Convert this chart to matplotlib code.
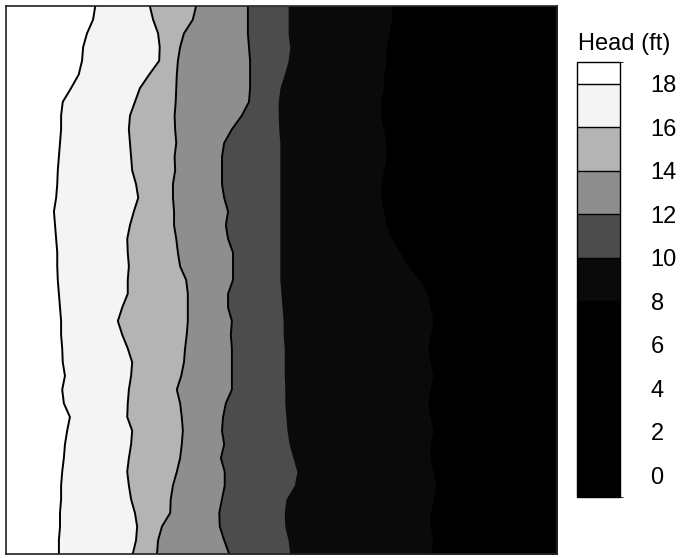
import numpy as np
import matplotlib
matplotlib.use("Agg")
import matplotlib.pyplot as plt
from matplotlib.colors import ListedColormap, BoundaryNorm
from matplotlib.cm import ScalarMappable

plt.rcParams['font.family'] = ['Liberation Sans', 'DejaVu Sans']

# y stations across the model domain, top (100) to bottom (0)
y_pos = np.linspace(100, 0, 41)

# x position of each head contour along the y stations
head18 = [16.2, 15.8, 14.7, 14.0, 13.8, 13.2, 11.8, 10.3, 10.0, 10.0, 9.8, 9.6, 9.4, 9.3,
          9.1, 8.7, 8.9, 9.1, 9.3, 9.3, 9.4, 9.6, 9.8, 10.0, 10.0, 10.2, 10.3, 10.7, 10.2,
          10.5, 11.6, 11.1, 10.7, 10.5, 10.2, 10.0, 10.0, 9.8, 9.8, 9.6, 9.6]
head16 = [26.1, 26.7, 27.6, 27.9, 27.8, 26.0, 24.3, 23.4, 22.5, 22.3, 22.5, 22.7, 22.9, 23.6,
          24.0, 23.2, 22.5, 22.0, 22.1, 22.3, 22.1, 22.1, 21.1, 20.3, 21.1, 22.1, 22.9, 22.7,
          22.3, 22.1, 22.0, 22.9, 22.7, 22.3, 22.0, 22.3, 22.7, 23.4, 23.8, 23.6, 23.0]
head14 = [34.5, 33.9, 32.3, 31.6, 31.2, 31.0, 30.9, 30.8, 30.6, 30.7, 30.9, 30.6, 30.7, 30.3,
          30.3, 30.5, 30.5, 30.9, 31.2, 31.6, 32.7, 33.0, 33.0, 33.0, 32.8, 32.5, 32.3, 31.8,
          31.0, 31.6, 31.9, 32.1, 31.9, 31.6, 31.0, 30.3, 29.9, 29.8, 28.3, 27.6, 27.4]
head12 = [43.9, 43.9, 43.9, 44.1, 44.3, 44.3, 44.3, 44.1, 42.8, 41.0, 39.6, 39.2, 39.2, 39.2,
          39.6, 40.3, 39.9, 40.3, 41.2, 41.2, 41.2, 40.3, 40.3, 41.0, 40.8, 41.0, 41.0, 41.0,
          41.0, 39.9, 39.4, 39.2, 39.6, 39.0, 39.7, 39.7, 39.2, 38.7, 38.8, 39.6, 40.5]
head10 = [51.2, 51.2, 51.2, 51.5, 51.2, 50.5, 49.7, 49.4, 49.4, 49.5, 49.7, 49.7, 49.7, 49.7,
          49.7, 49.7, 49.7, 49.7, 49.7, 49.7, 49.7, 49.9, 50.1, 50.3, 50.3, 50.5, 50.5, 50.5,
          50.6, 50.6, 50.8, 51.0, 51.4, 52.1, 52.8, 52.3, 50.8, 50.5, 50.6, 51.2, 51.5]
head8 = [70, 70, 69.5, 69, 69, 68.5, 68.5, 68, 68, 68.5, 69, 69, 68.5, 68, 68, 68.5, 69, 70,
         71.5, 73, 75, 76.5, 77, 77.5, 77, 76.5, 77, 77.5, 77, 76.5, 77, 77.5, 77, 77, 77.5,
         78, 77.5, 77, 77, 77.5, 77]

# colorbar intervals and their shades (low to high)
cbar_bounds = [-1, 0, 2, 4, 6, 8, 10, 12, 14, 16, 18, 19]
cbar_colors = ['#000000', '#000000', '#000000', '#000000', '#000000', '#0a0a0a',
               '#4c4c4c', '#8e8e8e', '#b4b4b4', '#f4f4f4', '#ffffff']
cbar_ticks = [0, 2, 4, 6, 8, 10, 12, 14, 16, 18]

fig = plt.figure(figsize=(6.86, 5.58), dpi=100)
ax = fig.add_axes([6 / 686, 4 / 558, 551 / 686, 548 / 558])
ax.set_xlim(0, 100)
ax.set_ylim(0, 100)
ax.set_facecolor('#ffffff')

# paint bands from the high-head side outward so neighbouring fills overlap cleanly
bands = [(head18, cbar_colors[9]), (head16, cbar_colors[8]), (head14, cbar_colors[7]),
         (head12, cbar_colors[6]), (head10, cbar_colors[5]), (head8, cbar_colors[4])]
for xs, color in bands:
    ax.fill_betweenx(y_pos, xs, 100, color=color, lw=0)

for xs in [head18, head16, head14, head12]:
    ax.plot(xs, y_pos, color='black', lw=1.4)

ax.set_xticks([])
ax.set_yticks([])
for sp in ax.spines.values():
    sp.set_linewidth(1.2)
    sp.set_color('#222222')

# colorbar
cax = fig.add_axes([577 / 686, 61 / 558, 43 / 686, 435 / 558])
sm = ScalarMappable(norm=BoundaryNorm(cbar_bounds, len(cbar_colors)),
                    cmap=ListedColormap(cbar_colors))
cb = fig.colorbar(sm, cax=cax, ticks=cbar_ticks, spacing='proportional', drawedges=True)
cb.outline.set_linewidth(1.0)
cb.dividers.set_linewidth(1.0)
cax.tick_params(length=0, pad=22, labelsize=17)

fig.text(578 / 686, 1 - 50 / 558, 'Head (ft)', fontsize=17, va='baseline')

fig.savefig('out.png', dpi=100)
